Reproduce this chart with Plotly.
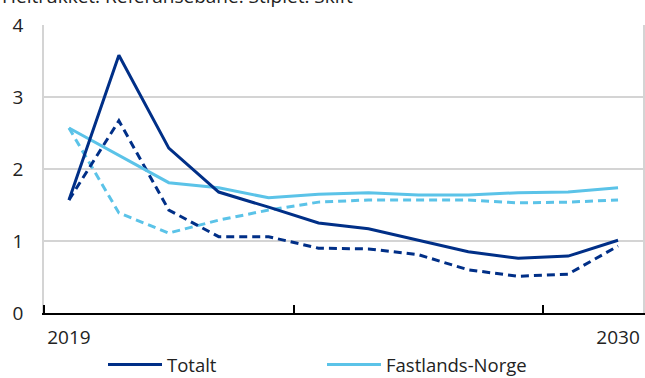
import plotly.graph_objects as go

years = list(range(2019, 2031))
totalt_ref = [1.57, 3.58, 2.29, 1.68, 1.47, 1.25, 1.17, 1.01, 0.85, 0.76, 0.79, 1.01]
totalt_skift = [1.57, 2.67, 1.43, 1.06, 1.06, 0.90, 0.89, 0.81, 0.60, 0.51, 0.54, 0.93]
fastland_ref = [2.57, 2.19, 1.81, 1.74, 1.60, 1.65, 1.67, 1.64, 1.64, 1.67, 1.68, 1.74]
fastland_skift = [2.57, 1.39, 1.11, 1.29, 1.43, 1.54, 1.57, 1.57, 1.57, 1.53, 1.54, 1.57]

x_labels = [2019, 2030]
x_boundaries = [2018.5, 2023.5, 2028.5]
y_ticks = [0, 1, 2, 3, 4]
subtitle = "Heltrukket: Referansebane. Stiplet: Skift"

DARK = "#002f87"
LIGHT = "#5bc3e8"
FONT = "Open Sans"
TXT = "#222222"

W, H = 645, 378

fig = go.Figure()
fig.add_trace(go.Scatter(x=years, y=fastland_skift, mode="lines", showlegend=False,
                         line=dict(color=LIGHT, width=3, dash="8px,5px")))
fig.add_trace(go.Scatter(x=years, y=totalt_skift, mode="lines", showlegend=False,
                         line=dict(color=DARK, width=3, dash="8px,5px")))
fig.add_trace(go.Scatter(x=years, y=fastland_ref, mode="lines", name="Fastlands-Norge",
                         legend="legend2", line=dict(color=LIGHT, width=3)))
fig.add_trace(go.Scatter(x=years, y=totalt_ref, mode="lines", name="Totalt",
                         legend="legend", line=dict(color=DARK, width=3)))

leg_common = dict(orientation="h", xref="container", yref="container", xanchor="left",
                  yanchor="middle", y=1 - 365 / H, itemwidth=54,
                  font=dict(size=18.5, color=TXT),
                  bgcolor="rgba(0,0,0,0)", borderwidth=0)

fig.update_layout(
    width=W, height=H,
    margin=dict(l=44, r=2, t=25, b=65, autoexpand=False),
    paper_bgcolor="white", plot_bgcolor="white",
    font=dict(family=FONT, size=19, color=TXT),
    showlegend=True,
    legend=dict(x=103 / W, **leg_common),
    legend2=dict(x=322 / W, **leg_common),
    xaxis=dict(range=[2018.5, 2030.5], tickmode="array", tickvals=x_labels,
               ticktext=[str(v) for v in x_labels], ticks="", showgrid=False,
               showline=True, linecolor="black", linewidth=2, zeroline=False,
               automargin=False, ticklabelstandoff=6, tickfont=dict(size=19),
               minor=dict(tickmode="array", tickvals=x_boundaries, ticks="inside",
                          ticklen=8, tickwidth=1.5, tickcolor="black", showgrid=False)),
    yaxis=dict(range=[0, 4], tickmode="array", tickvals=y_ticks, showgrid=True,
               gridcolor="#d4d4d4", gridwidth=1.5, showline=True, linecolor="#d4d4d4",
               linewidth=1.5, mirror=True, zeroline=False, ticks="", automargin=False,
               ticklabelstandoff=15, tickfont=dict(size=19)),
    annotations=[dict(text=subtitle, xref="paper", yref="paper", x=-44 / 599, y=1.048,
                      xanchor="left", yanchor="bottom", showarrow=False,
                      font=dict(size=19, color=TXT))],
)

fig.write_html("out.html", config={"displayModeBar": False},
               post_script="document.body.style.margin='0';document.body.style.overflow='hidden';")
